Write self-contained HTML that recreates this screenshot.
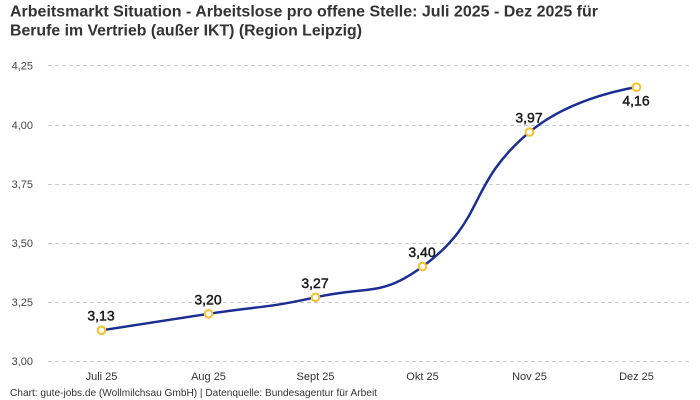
<!DOCTYPE html>
<html>
<head>
<meta charset="utf-8">
<style>
  html, body { margin: 0; padding: 0; background: #ffffff; }
  body { width: 700px; height: 400px; overflow: hidden; }
  svg { display: block; }
  text { font-family: "Liberation Sans", "DejaVu Sans", sans-serif; }
</style>
</head>
<body>
<svg width="700" height="400" viewBox="0 0 700 400" xmlns="http://www.w3.org/2000/svg">
  <rect x="0" y="0" width="700" height="400" fill="#ffffff"/>

  <!-- Title -->
  <text x="10" y="16.5" font-size="16" font-weight="bold" fill="#333333" textLength="588" lengthAdjust="spacingAndGlyphs">Arbeitsmarkt Situation - Arbeitslose pro offene Stelle: Juli 2025 - Dez 2025 für</text>
  <text x="10" y="35.5" font-size="16" font-weight="bold" fill="#333333" textLength="352" lengthAdjust="spacingAndGlyphs">Berufe im Vertrieb (außer IKT) (Region Leipzig)</text>

  <!-- Grid lines -->
  <g stroke="#cccccc" stroke-width="1" stroke-dasharray="4,3" fill="none">
    <line x1="48" y1="65.5" x2="690" y2="65.5"/>
    <line x1="48" y1="125.5" x2="690" y2="125.5"/>
    <line x1="48" y1="184.5" x2="690" y2="184.5"/>
    <line x1="48" y1="243.5" x2="690" y2="243.5"/>
    <line x1="48" y1="302.5" x2="690" y2="302.5"/>
    <line x1="48" y1="361.5" x2="690" y2="361.5"/>
  </g>

  <!-- Y axis labels -->
  <g font-size="11" fill="#444444" text-anchor="end">
    <text x="33" y="69.5">4,25</text>
    <text x="33" y="129">4,00</text>
    <text x="33" y="188">3,75</text>
    <text x="33" y="247">3,50</text>
    <text x="33" y="306">3,25</text>
    <text x="33" y="365">3,00</text>
  </g>

  <!-- X axis labels -->
  <g font-size="11" fill="#333333" text-anchor="middle">
    <text x="101.5" y="380">Juli 25</text>
    <text x="208.5" y="380">Aug 25</text>
    <text x="315.5" y="380">Sept 25</text>
    <text x="422.5" y="380">Okt 25</text>
    <text x="529.5" y="380">Nov 25</text>
    <text x="636.5" y="380">Dez 25</text>
  </g>

  <!-- Series line -->
  <path d="M101.5,330.3 C101.5,330.3 155,322.05 208.5,313.8 C262,305.55 262.74,308.93 315.5,297.3 C369.75,285.34 380.44,297.3 422.5,266.6 C487.44,219.2 465.63,185.64 529.5,132.1 C572.62,95.95 636.5,87.2 636.5,87.2"
        fill="none" stroke="#1b2f92" stroke-width="2.5" stroke-linejoin="round" stroke-linecap="round"/>

  <!-- Markers -->
  <g fill="#ffffff" stroke="#f8c12c" stroke-width="2">
    <circle cx="101.5" cy="330.3" r="3.8"/>
    <circle cx="208.5" cy="313.8" r="3.8"/>
    <circle cx="315.5" cy="297.3" r="3.8"/>
    <circle cx="422.5" cy="266.6" r="3.8"/>
    <circle cx="529.5" cy="132.1" r="3.8"/>
    <circle cx="636.5" cy="87.2" r="3.8"/>
  </g>

  <!-- Data labels -->
  <g font-size="14" fill="#1a1a1a" stroke="#1a1a1a" stroke-width="0.45" text-anchor="middle">
    <text x="101" y="320.5">3,13</text>
    <text x="208" y="304.5">3,20</text>
    <text x="315" y="288">3,27</text>
    <text x="422" y="257">3,40</text>
    <text x="529" y="122.5">3,97</text>
    <text x="636" y="105.5">4,16</text>
  </g>

  <!-- Footer -->
  <text x="10" y="396" font-size="10" fill="#333333" textLength="367" lengthAdjust="spacingAndGlyphs">Chart: gute-jobs.de (Wollmilchsau GmbH) | Datenquelle: Bundesagentur für Arbeit</text>
</svg>
</body>
</html>
